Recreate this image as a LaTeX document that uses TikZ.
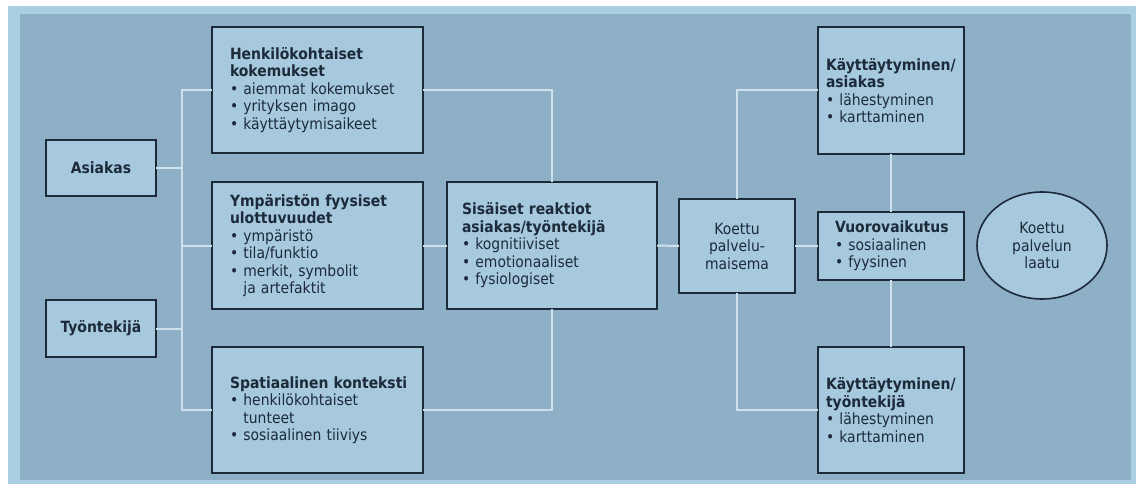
\documentclass[tikz,border=0pt]{standalone}
\usepackage{fontspec}
\setmainfont{DejaVu Sans Condensed}
\usetikzlibrary{shapes.geometric}
\definecolor{frame}{RGB}{170,206,226}
\definecolor{panel}{RGB}{141,176,199}
\definecolor{boxfill}{RGB}{166,201,222}
\definecolor{conncol}{RGB}{206,224,236}
\definecolor{ink}{RGB}{28,42,58}
\tikzset{
  boxstyle/.style={draw=ink, line width=1.8pt, fill=boxfill, text=ink, rectangle, outer sep=0pt,
    inner ysep=0pt, inner xsep=2pt, font=\fontsize{15.5}{17.5}\selectfont},
  conn/.style={draw=conncol, line width=2pt},
}
% left-aligned box: name, x1, y1, x2, y2, left inset, content
\newcommand{\bx}[7]{%
  \pgfmathsetmacro{\bw}{#4-#2}\pgfmathsetmacro{\bh}{#5-#3}%
  \pgfmathsetmacro{\tw}{#4-#2-4}%
  \node[boxstyle, minimum width=\bw pt, minimum height=\bh pt, text width=\tw pt, align=left]
    (#1) at ({(#2+#4)/2},{(#3+#5)/2}) {\leftskip=#6pt\relax #7\par};}
% centred box: name, x1, y1, x2, y2, content
\newcommand{\cbx}[6]{%
  \pgfmathsetmacro{\bw}{#4-#2}\pgfmathsetmacro{\bh}{#5-#3}%
  \pgfmathsetmacro{\tw}{#4-#2-4}%
  \node[boxstyle, minimum width=\bw pt, minimum height=\bh pt, text width=\tw pt, align=center]
    (#1) at ({(#2+#4)/2},{(#3+#5)/2}) {#6};}
\newcommand{\bl}{\textbullet\ }
\newcommand{\hang}{\phantom{\textbullet\ }}
\begin{document}
\begin{tikzpicture}[x=1pt,y=-1pt]
\useasboundingbox (0,0) rectangle (1136,484);
\fill[white] (0,0) rectangle (1136,484);
\fill[frame] (8,6) rectangle (1136,484);
\fill[panel] (20,14) rectangle (1131,480);

\cbx{asiakas}{46}{140}{156}{196}{\textbf{Asiakas}}
\cbx{tyontekija}{46}{300}{156}{357}{\textbf{Työntekijä}}
\bx{henk}{212}{27}{423}{153}{16}{\textbf{Henkilökohtaiset}\\\textbf{kokemukset}\\\bl aiemmat kokemukset\\\bl yrityksen imago\\\bl käyttäytymisaikeet}
\bx{ymp}{212}{182}{423}{309}{16}{\textbf{Ympäristön fyysiset}\\\textbf{ulottuvuudet}\\\bl ympäristö\\\bl tila/funktio\\\bl merkit, symbolit\\\hang ja artefaktit}
\bx{spat}{212}{347}{423}{473}{16}{\textbf{Spatiaalinen konteksti}\\\bl henkilökohtaiset\\\hang tunteet\\\bl sosiaalinen tiiviys}
\bx{sis}{447}{182}{657}{309}{13}{\textbf{Sisäiset reaktiot}\\\textbf{asiakas/työntekijä}\\\bl kognitiiviset\\\bl emotionaaliset\\\bl fysiologiset}
\cbx{koettu}{679}{199}{795}{293}{Koettu\\palvelu-\\maisema}
\bx{kas}{818}{27}{964}{154}{6}{\textbf{Käyttäytyminen/}\\\textbf{asiakas}\\\bl lähestyminen\\\bl karttaminen}
\bx{vuoro}{818}{212}{964}{280}{15}{\textbf{Vuorovaikutus}\\\bl sosiaalinen\\\bl fyysinen}
\bx{kty}{818}{347}{964}{473}{6}{\textbf{Käyttäytyminen/}\\\textbf{työntekijä}\\\bl lähestyminen\\\bl karttaminen}
\node[ellipse, draw=ink, line width=1.6pt, fill=boxfill, text=ink, minimum width=130pt, minimum height=107pt,
  inner sep=0pt, align=center, font=\fontsize{15.5}{17.5}\selectfont] (laatu) at (1042,245.5) {Koettu\\palvelun\\laatu};

% left trunk
\draw[conn] (henk.west) -- ++(-30,0) |- (spat.west);
\draw[conn] (asiakas.east) -- ++(26,0);
\draw[conn] (tyontekija.east) -- ++(26,0);
\draw[conn] (ymp.west) -- ++(-30,0);
% middle
\draw[conn] (henk.east) -| (sis.north);
\draw[conn] (spat.east) -| (sis.south);
\draw[conn] (ymp.east) -- (sis.west);
\draw[conn] (sis.east) -- (koettu.west);
% right
\draw[conn] (koettu.east) -- (vuoro.west);
\draw[conn] (koettu.north) |- (kas.west);
\draw[conn] (koettu.south) |- (kty.west);
\draw[conn] (kas.south) -- (vuoro.north);
\draw[conn] (vuoro.south) -- (kty.north);
\end{tikzpicture}
\end{document}
